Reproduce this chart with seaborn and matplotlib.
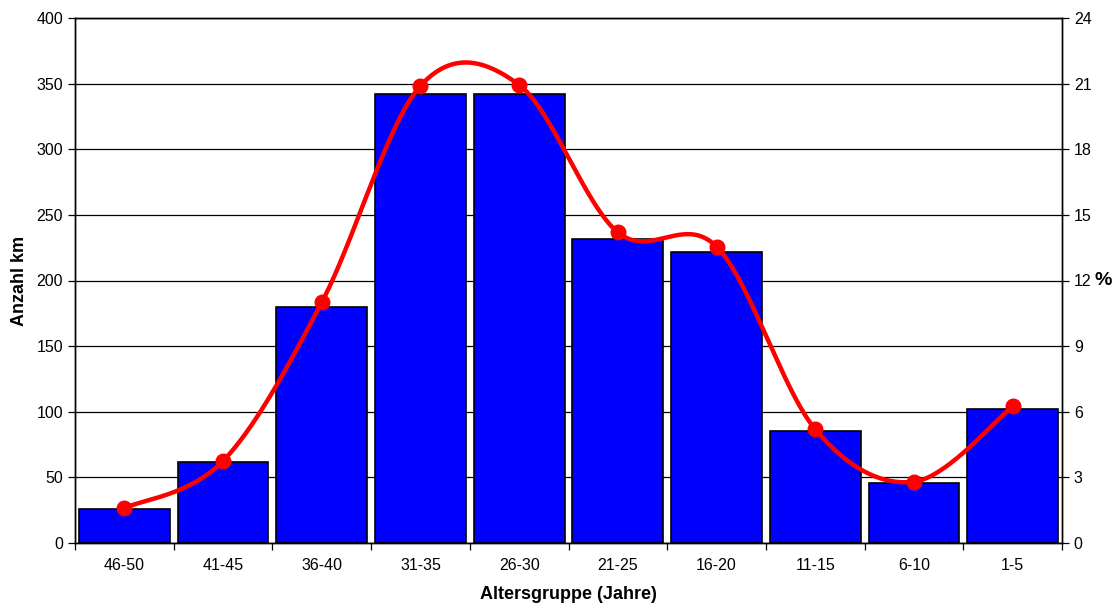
import numpy as np
import pandas as pd
import matplotlib
matplotlib.use("Agg")
import matplotlib.pyplot as plt
import seaborn as sns

# Age groups (years) and counts
age_groups = ["46-50", "41-45", "36-40", "31-35", "26-30", "21-25", "16-20", "11-15", "6-10", "1-5"]
anzahl_km = [26, 61.5, 180, 342, 342.3, 232, 221.5, 85.3, 45.5, 102.3]
percent = [1.6, 3.75, 11.0, 20.9, 20.94, 14.2, 13.55, 5.2, 2.8, 6.25]

left_ticks = [0, 50, 100, 150, 200, 250, 300, 350, 400]
right_ticks = [0, 3, 6, 9, 12, 15, 18, 21, 24]

sns.set_theme(style="white")
plt.rcParams["font.family"] = ["Liberation Sans", "DejaVu Sans"]
plt.rcParams["text.color"] = "black"
plt.rcParams["axes.labelcolor"] = "black"
plt.rcParams["xtick.color"] = "black"
plt.rcParams["ytick.color"] = "black"

df = pd.DataFrame({"Altersgruppe": age_groups, "Anzahl": anzahl_km})

fig = plt.figure(figsize=(11.2, 6.09), dpi=100)
ax = fig.add_axes([75 / 1120, 66 / 609, 987 / 1120, 525 / 609])

sns.barplot(data=df, x="Altersgruppe", y="Anzahl", color="#0000FF", saturation=1,
            width=0.92, edgecolor="black", linewidth=1.2, ax=ax, zorder=2)

ax.set_xlim(-0.5, len(age_groups) - 0.5)
ax.set_ylim(0, 400)
ax.set_yticks(left_ticks)
ax.grid(axis="y", color="black", linewidth=0.9, zorder=0)
ax.set_axisbelow(True)
for s in ax.spines.values():
    s.set_color("black")
    s.set_linewidth(1.0)

# category separators on the x axis
ax.set_xticks(np.arange(-0.5, len(age_groups)), minor=True)
ax.tick_params(axis="x", which="major", length=0, labelsize=11.5, pad=11, colors="black")
ax.tick_params(axis="x", which="minor", length=5, width=0.9, color="black", direction="out", bottom=True)
ax.tick_params(axis="y", length=5, width=0.9, color="black", direction="out", labelsize=11.5,
               left=True, labelcolor="black")
ax.set_xlabel("Altersgruppe (Jahre)", fontsize=13, fontweight="bold", labelpad=9, color="black")
ax.set_ylabel("Anzahl km", fontsize=13, fontweight="bold", labelpad=6, color="black")

# percentage curve on the secondary axis, smoothed with Bezier segments
ax2 = ax.twinx()
ax2.set_ylim(0, 24)
ax2.set_yticks(right_ticks)
ax2.tick_params(axis="y", length=5, width=0.9, color="black", direction="out", labelsize=11.5,
                right=True, labelcolor="black")
ax2.set_ylabel("%", fontsize=14, fontweight="bold", rotation=0, labelpad=8, va="center", color="black")
for s in ax2.spines.values():
    s.set_color("black")
    s.set_linewidth(1.0)

xs = np.arange(len(percent), dtype=float)
ys = np.asarray(percent, dtype=float)
px = np.concatenate([[xs[0]], xs, [xs[-1]]])
py = np.concatenate([[ys[0]], ys, [ys[-1]]])
t = np.linspace(0, 1, 40)[:, None]
curve_x, curve_y = [], []
for i in range(1, len(px) - 2):
    p0 = np.array([px[i], py[i]])
    p3 = np.array([px[i + 1], py[i + 1]])
    c1 = p0 + (np.array([px[i + 1], py[i + 1]]) - np.array([px[i - 1], py[i - 1]])) / 6
    c2 = p3 - (np.array([px[i + 2], py[i + 2]]) - np.array([px[i], py[i]])) / 6
    seg = ((1 - t) ** 3) * p0 + 3 * ((1 - t) ** 2) * t * c1 + 3 * (1 - t) * t ** 2 * c2 + t ** 3 * p3
    curve_x.extend(seg[:, 0])
    curve_y.extend(seg[:, 1])

sns.lineplot(x=curve_x, y=curve_y, ax=ax2, color="#FF0000", linewidth=3.2, sort=False,
             estimator=None, zorder=3)
ax2.plot(xs, ys, "o", color="#FF0000", markersize=10.5, zorder=4)
ax2.set_xlim(-0.5, len(age_groups) - 0.5)

fig.savefig("out.png", dpi=100)
